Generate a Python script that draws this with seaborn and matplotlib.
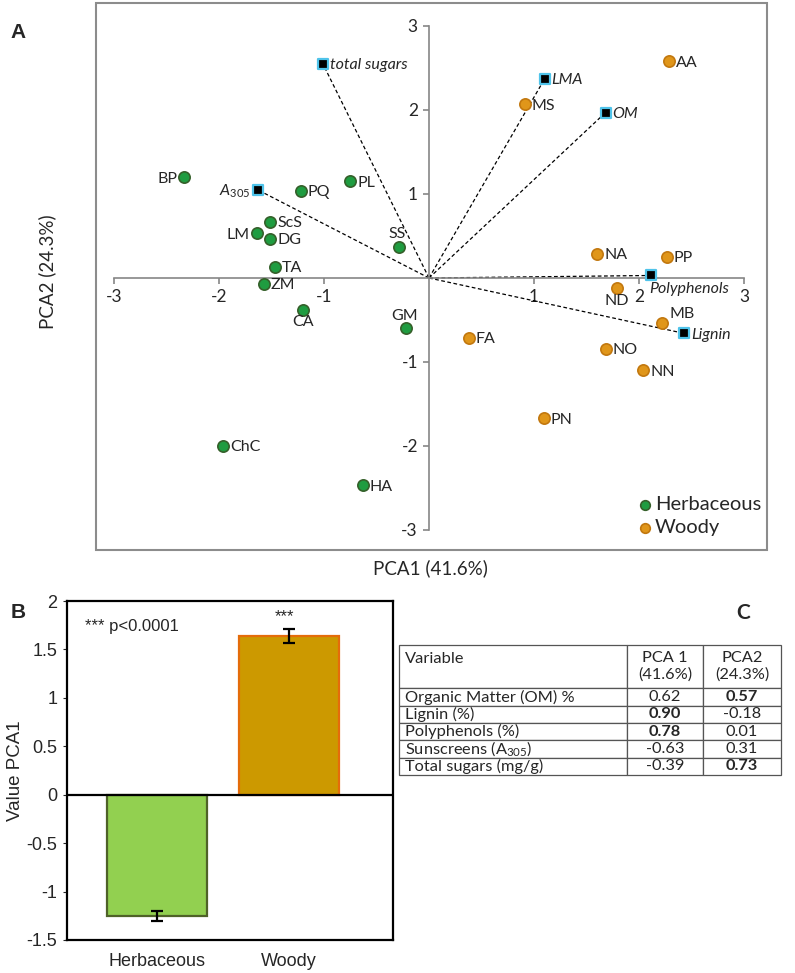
import numpy as np
import pandas as pd
import seaborn as sns
import matplotlib.pyplot as plt
from matplotlib.patches import Rectangle
from matplotlib.ticker import FuncFormatter

sns.set_style("white")
plt.rcParams["font.family"] = ["Lato", "DejaVu Sans"]
plt.rcParams["mathtext.fontset"] = "custom"
plt.rcParams["mathtext.rm"] = "Lato"
plt.rcParams["mathtext.it"] = "Lato:italic"
plt.rcParams["mathtext.bf"] = "Lato:bold"

# ---- panel A: PCA scores + loadings
herb_codes = ["BP", "PQ", "PL", "ScS", "LM", "DG", "TA", "SS", "ZM", "CA", "GM", "ChC", "HA"]
herb_pc1 = [-2.33, -1.22, -0.75, -1.51, -1.64, -1.51, -1.47, -0.29, -1.57, -1.20, -0.22, -1.96, -0.63]
herb_pc2 = [1.20, 1.04, 1.15, 0.67, 0.53, 0.47, 0.13, 0.37, -0.07, -0.38, -0.60, -2.00, -2.47]
woody_codes = ["AA", "MS", "NA", "PP", "ND", "MB", "FA", "NO", "NN", "PN"]
woody_pc1 = [2.28, 0.91, 1.60, 2.26, 1.79, 2.22, 0.38, 1.68, 2.04, 1.09]
woody_pc2 = [2.58, 2.07, 0.29, 0.25, -0.12, -0.54, -0.71, -0.84, -1.10, -1.67]
var_names = ["total sugars", r"$\mathit{A}_{\mathit{305}}$", "LMA", "OM", "Polyphenols", "Lignin"]
var_pc1 = [-1.01, -1.63, 1.10, 1.68, 2.11, 2.43]
var_pc2 = [2.55, 1.05, 2.37, 1.97, 0.03, -0.66]
axis_ticks = [-3, -2, -1, 1, 2, 3]

# ---- panel B
groups = ["Herbaceous", "Woody"]
group_mean = [-1.25, 1.64]
group_se = [0.05, 0.07]

# ---- panel C
table_header = ["Variable\n ", "PCA 1\n(41.6%)", "PCA2\n(24.3%)"]
table_vars = ["Organic Matter (OM) %", "Lignin (%)", "Polyphenols (%)",
              r"Sunscreens ($\mathrm{A}_{305}$)", "Total sugars (mg/g)"]
loading_pc1 = ["0.62", "0.90", "0.78", "-0.63", "-0.39"]
loading_pc2 = ["0.57", "-0.18", "0.01", "0.31", "0.73"]
bold_pc1 = [False, True, True, False, False]
bold_pc2 = [True, False, False, False, True]

W, H = 795, 973
fig = plt.figure(figsize=(W / 100, H / 100), dpi=100)

def fx(px):
    return px / W

def fy(py):
    return 1 - py / H

# frame around panel A
fig.add_artist(Rectangle((fx(96), fy(550)), fx(767) - fx(96), fy(3) - fy(550),
                         transform=fig.transFigure, fill=False, edgecolor="#8c8c8c", lw=1.5))

axA = fig.add_axes([fx(113.7), fy(530), fx(744.3) - fx(113.7), fy(26) - fy(530)])
gray = "#868686"
green, green_e = "#1f9c40", "#35602a"
orange, orange_e = "#e0961a", "#c2780f"

herb = pd.DataFrame({"pc1": herb_pc1, "pc2": herb_pc2, "code": herb_codes})
woody = pd.DataFrame({"pc1": woody_pc1, "pc2": woody_pc2, "code": woody_codes})
loads = pd.DataFrame({"pc1": var_pc1, "pc2": var_pc2, "name": var_names})

for x, y in zip(var_pc1, var_pc2):
    axA.plot([0, x], [0, y], color="black", lw=0.9, ls=(0, (3, 2)), zorder=2)

sns.scatterplot(data=herb, x="pc1", y="pc2", color=green, edgecolor=green_e, linewidth=1.2,
                s=66, ax=axA, zorder=3, label="Herbaceous")
sns.scatterplot(data=woody, x="pc1", y="pc2", color=orange, edgecolor=orange_e, linewidth=1.2,
                s=66, ax=axA, zorder=3, label="Woody")
sns.scatterplot(data=loads, x="pc1", y="pc2", color="black", edgecolor="#4fc3ea", linewidth=1.6,
                marker="s", s=55, ax=axA, zorder=4)

place = {"BP": "l", "LM": "l", "SS": "t", "CA": "b", "GM": "t", "ND": "b", "MB": "tr",
         r"$\mathit{A}_{\mathit{305}}$": "l", "Polyphenols": "bl"}
offs = {"r": ((5, -1), "left", "center"), "l": ((-5, -1), "right", "center"),
        "t": ((-1, 4), "center", "bottom"), "b": ((0, -4), "center", "top"),
        "tr": ((5, 2), "left", "bottom"), "bl": ((-1, -5), "left", "top")}

for df, col in [(herb, "code"), (woody, "code"), (loads, "name")]:
    for _, r in df.iterrows():
        (dx, dy), ha, va = offs[place.get(r[col], "r")]
        axA.annotate(r[col], (r["pc1"], r["pc2"]), xytext=(dx, dy), textcoords="offset points",
                     ha=ha, va=va, fontsize=11.5, style="italic" if df is loads else "normal",
                     zorder=5)

axA.set_xlim(-3, 3)
axA.set_ylim(-3, 3)
for s in ["top", "right"]:
    axA.spines[s].set_visible(False)
for s in ["left", "bottom"]:
    axA.spines[s].set_position(("data", 0))
    axA.spines[s].set_color(gray)
    axA.spines[s].set_linewidth(1.2)
axA.set_xticks(axis_ticks)
axA.set_yticks(axis_ticks)
axA.xaxis.set_major_formatter(FuncFormatter(lambda v, p: "%g" % v))
axA.yaxis.set_major_formatter(FuncFormatter(lambda v, p: "%g" % v))
axA.tick_params(bottom=True, left=True, direction="out", length=4, color=gray, width=1.2,
                labelsize=12.5, pad=4)
axA.set_xlabel("")
axA.set_ylabel("")
axA.patch.set_alpha(0)

h, l = axA.get_legend_handles_labels()
axA.legend(h[:2], l[:2], loc="upper left", bbox_to_anchor=(fx(640), fy(496)),
           bbox_transform=fig.transFigure, frameon=False, fontsize=14.5, handlelength=0.5,
           handletextpad=0.25, labelspacing=0.3, borderpad=0, borderaxespad=0, markerscale=0.85)

fig.text(fx(430), fy(568), "PCA1 (41.6%)", ha="center", va="center", fontsize=13.5)
fig.text(fx(47), fy(272), "PCA2 (24.3%)", ha="center", va="center", rotation=90, fontsize=13.5)
fig.text(fx(18), fy(32), "A", ha="center", va="center", fontsize=15, fontweight="bold",
         family="Liberation Sans")

# ---- panel B
axB = fig.add_axes([fx(67), fy(940), fx(393) - fx(67), fy(601) - fy(940)])
bars = pd.DataFrame({"group": groups, "pc1": group_mean})
sns.barplot(data=bars, x="group", y="pc1", hue="group", palette=["#92d050", "#cc9900"],
            saturation=1, width=0.76, errorbar=None, legend=False, linewidth=1.6, ax=axB)
for patch, ec in zip(axB.patches, ["#4f6228", "#e46c0a"]):
    patch.set_edgecolor(ec)
axB.errorbar(np.arange(len(groups)), group_mean, yerr=group_se, fmt="none", ecolor="black",
             elinewidth=1.6, capsize=4, capthick=1.6, zorder=4)
axB.axhline(0, color="black", lw=1.6, zorder=5)
axB.set_xlim(-0.68, 1.79)
axB.set_ylim(-1.5, 2)
axB.set_yticks(np.arange(-1.5, 2.01, 0.5))
axB.yaxis.set_major_formatter(FuncFormatter(lambda v, p: "%g" % v))
for s in axB.spines.values():
    s.set_visible(True)
    s.set_color("black")
    s.set_linewidth(1.6)
axB.tick_params(axis="y", left=True, direction="out", length=3, labelsize=13, pad=4)
axB.tick_params(axis="x", bottom=False, labelsize=13, pad=6)
for t in axB.get_xticklabels() + axB.get_yticklabels():
    t.set_family("Liberation Sans")
axB.set_xlabel("")
axB.set_ylabel("Value PCA1", fontsize=13.5, family="Liberation Sans", labelpad=2)
axB.text(-0.54, 1.74, "*** p<0.0001", fontsize=12, va="center", family="Liberation Sans")
axB.text(0.97, 1.84, "***", fontsize=12, ha="center", va="center", family="Liberation Sans")
fig.text(fx(18), fy(612), "B", ha="center", va="center", fontsize=15, fontweight="bold",
         family="Liberation Sans")

# ---- panel C (table)
axT = fig.add_axes([fx(399), fy(775), fx(781) - fx(399), fy(645) - fy(775)])
axT.axis("off")
rows = [[v, a, b] for v, a, b in zip(table_vars, loading_pc1, loading_pc2)]
tbl = axT.table(cellText=rows, colLabels=table_header, colWidths=[228, 76, 78],
                cellLoc="center", bbox=[0, 0, 1, 1])
tbl.auto_set_font_size(False)
for (r, c), cell in tbl.get_celld().items():
    cell.set_edgecolor("#555555")
    cell.set_linewidth(0.9)
    cell.set_height(2.5 if r == 0 else 1)
    txt = cell.get_text()
    txt.set_fontsize(11.8)
    if c == 0:
        cell._loc = "left"
        txt.set_ha("left")
        cell.PAD = 0.025
    if r > 0 and ((c == 1 and bold_pc1[r - 1]) or (c == 2 and bold_pc2[r - 1])):
        txt.set_fontweight("bold")
fig.text(fx(743), fy(613), "C", ha="center", va="center", fontsize=15, fontweight="bold")

fig.savefig("out.png", dpi=100)
